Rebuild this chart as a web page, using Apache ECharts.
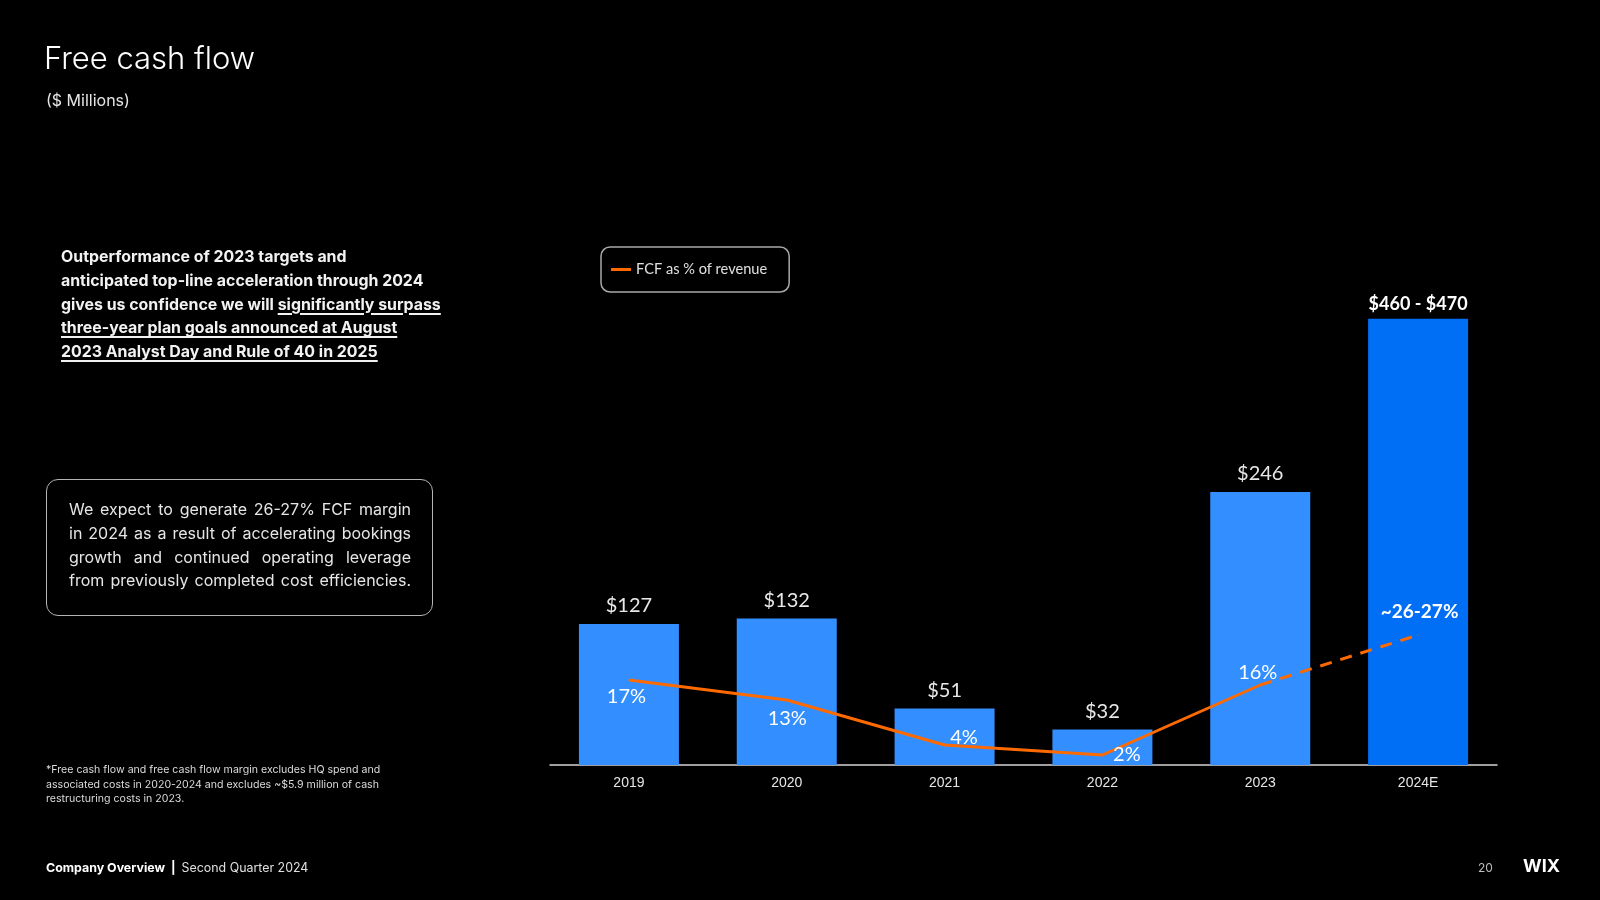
<!DOCTYPE html>
<html>
<head>
<meta charset="utf-8">
<script src="https://cdn.jsdelivr.net/npm/echarts@6/dist/echarts.min.js"></script>
<style>
  html, body { margin: 0; padding: 0; background: #000; }
  #wrap { position: relative; width: 1600px; height: 900px; background: #000; overflow: hidden; }
  #chart { position: absolute; left: 0; top: 0; width: 1600px; height: 900px; }
  .txt { position: absolute; color: #f2f2f2; font-family: Inter, "Noto Sans", sans-serif; }
  #lead { left: 61px; top: 245px; font-size: 15.9px; font-weight: 700; line-height: 23.8px; white-space: nowrap; }
  #lead u { text-decoration-thickness: 1.5px; text-underline-offset: 3px; }
  #box { left: 46px; top: 479px; width: 387px; height: 137px; border: 1.5px solid #b4b4b4; border-radius: 12px; box-sizing: border-box; }
  #boxtxt { left: 69px; top: 498px; width: 342px; font-size: 16px; line-height: 23.8px; color: #e6e6e6; }
  #boxtxt div { text-align: justify; text-align-last: justify; white-space: nowrap; }
  #note { left: 46px; top: 763px; font-size: 10.6px; line-height: 14.7px; color: #dcdcdc; white-space: nowrap; }
</style>
</head>
<body>
<div id="wrap">
  <div id="chart"></div>
  <div id="lead" class="txt">Outperformance of 2023 targets and<br>anticipated top-line acceleration through 2024<br>gives us confidence we will <u>significantly surpass</u><br><u>three-year plan goals announced at August</u><br><u>2023 Analyst Day and Rule of 40 in 2025</u></div>
  <div id="box" class="txt"></div>
  <div id="boxtxt" class="txt">
    <div>We expect to generate 26-27% FCF margin</div>
    <div>in 2024 as a result of accelerating bookings</div>
    <div>growth and continued operating leverage</div>
    <div>from previously completed cost efficiencies.</div>
  </div>
  <div id="note" class="txt">*Free cash flow and free cash flow margin excludes HQ spend and<br>associated costs in 2020-2024 and excludes ~$5.9 million of cash<br>restructuring costs in 2023.</div>
</div>
<script>
// ---- data ----
const categories = ['2019', '2020', '2021', '2022', '2023', '2024E'];
const fcfValues = [127, 132, 51, 32, 246, 402];            // drawn bar heights ($M)
const fcfLabels = ['$127', '$132', '$51', '$32', '$246', '$460 - $470'];
const marginActual = [17, 13, 4, 2, 16, null];              // FCF as % of revenue
const marginOutlook = [null, null, null, null, 16, 26];     // projected (dashed)
const marginLabels = ['17%', '13%', '4%', '2%', '16%', '~26-27%'];
const legendName = 'FCF as % of revenue';

// ---- styles ----
const barColors = ['#338FFF', '#338FFF', '#338FFF', '#338FFF', '#338FFF', '#006EF5'];
const orange = '#FF6A00';
const pctOffsets = [[-2, 17], [1, 19], [20, -7], [25, 0], [-2, -12], [2, -23]];
const chartFont = 'Lato, "Open Sans", sans-serif';

const chart = echarts.init(document.getElementById('chart'), null, { renderer: 'canvas' });

const barData = fcfValues.map((v, i) => {
  const last = i === fcfValues.length - 1;
  return {
    value: v,
    itemStyle: { color: barColors[i] },
    label: last
      ? { fontWeight: 'bold', fontSize: 18, distance: 6, color: '#ffffff' }
      : {}
  };
});

function pctLabel(i, bold) {
  return {
    show: true,
    position: pctOffsets[i],
    align: 'center',
    verticalAlign: 'middle',
    formatter: marginLabels[i],
    fontSize: bold ? 19 : 20,
    fontWeight: bold ? 'bold' : 'normal',
    color: '#ffffff',
    fontFamily: chartFont
  };
}

const solidData = marginActual.map((v, i) => ({ value: v, label: v == null ? { show: false } : pctLabel(i, false) }));
const dashedData = marginOutlook.map((v, i) => ({
  value: v,
  label: (v != null && i === marginOutlook.length - 1) ? pctLabel(i, true) : { show: false }
}));

const option = {
  backgroundColor: '#000000',
  animation: false,
  grid: { left: 550, right: 103, top: 210, bottom: 135 },
  legend: {
    data: [{ name: legendName, itemStyle: { color: orange } }],
    left: 601, top: 247,
    icon: 'rect', itemWidth: 20, itemHeight: 3, itemGap: 8,
    padding: [15, 22, 15, 10],
    borderColor: '#a8a8a8', borderWidth: 1.5, borderRadius: 9,
    textStyle: { color: '#e0e0e0', fontSize: 14.6, fontFamily: chartFont }
  },
  xAxis: {
    type: 'category',
    data: categories,
    axisLine: { lineStyle: { color: '#d4d4d4', width: 1.5 } },
    axisTick: { show: false },
    axisLabel: { color: '#e6e6e6', fontSize: 14, margin: 11, fontFamily: '"Liberation Sans", Arial, sans-serif' }
  },
  yAxis: [
    { type: 'value', min: 0, max: 500, show: false, splitLine: { show: false } },
    { type: 'value', min: 0, max: 111, show: false, splitLine: { show: false } }
  ],
  series: [
    {
      name: 'Free cash flow', type: 'bar', data: barData, barWidth: 100,
      label: {
        show: true, position: 'top', distance: 8, color: '#e8e8e8', fontSize: 20,
        fontFamily: chartFont,
        formatter: p => fcfLabels[p.dataIndex]
      },
      z: 1
    },
    {
      name: legendName, type: 'line', yAxisIndex: 1, data: solidData,
      symbol: 'circle', symbolSize: 1, showSymbol: true,
      itemStyle: { color: orange },
      lineStyle: { color: orange, width: 3 },
      connectNulls: false, z: 3
    },
    {
      name: 'outlook', type: 'line', yAxisIndex: 1, data: dashedData,
      symbol: 'circle', symbolSize: 1, showSymbol: true,
      itemStyle: { color: orange },
      lineStyle: { color: orange, width: 3, type: [12, 9] },
      z: 3
    }
  ],
  graphic: [
    { type: 'text', left: 44, top: 44, style: { text: 'Free cash flow', fill: '#ffffff', fontSize: 31, fontFamily: 'Inter, sans-serif', fontWeight: 300 } },
    { type: 'text', left: 46, top: 93, style: { text: '($ Millions)', fill: '#e6e6e6', fontSize: 16, fontFamily: 'Inter, sans-serif' } },
    { type: 'text', left: 46, top: 862, style: {
        text: '{b|Company Overview}{s||}{r|Second Quarter 2024}',
        rich: {
          b: { fill: '#ffffff', fontSize: 12.4, fontWeight: 'bold', fontFamily: 'Inter, sans-serif' },
          s: { fill: '#ffffff', fontSize: 12.4, fontWeight: 'bold', fontFamily: 'Inter, sans-serif', padding: [0, 6, 0, 6] },
          r: { fill: '#e0e0e0', fontSize: 12.4, fontFamily: 'Inter, sans-serif' }
        }
      } },
    { type: 'text', left: 1478, top: 862, style: { text: '20', fill: '#bdbdbd', fontSize: 12, fontFamily: 'Inter, sans-serif' } },
    { type: 'text', left: 1523, top: 858, style: { text: 'WIX', fill: '#ffffff', fontSize: 18, fontWeight: 'bold', fontFamily: 'Inter, sans-serif' } }
  ]
};
chart.setOption(option);
</script>
</body>
</html>
